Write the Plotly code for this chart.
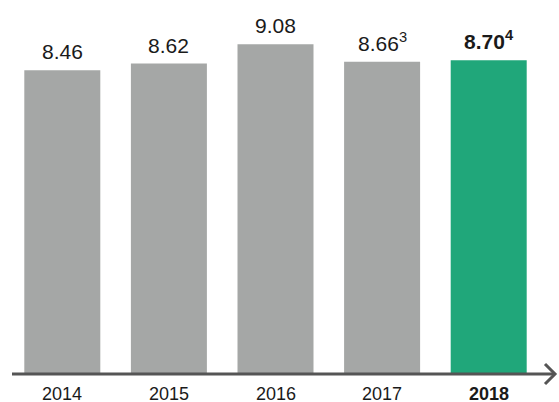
import plotly.graph_objects as go

years = ["2014", "2015", "2016", "2017", "2018"]
tick_labels = ["2014", "2015", "2016", "2017", "<b>2018</b>"]
values = [8.46, 8.62, 9.08, 8.66, 8.70]
value_labels = ["8.46", "8.62", "9.08", "8.66<sup>3</sup>", "<b>8.70<sup>4</sup></b>"]
colors = ["#a5a7a6", "#a5a7a6", "#a5a7a6", "#a5a7a6", "#20a77a"]

W, H = 559, 402
L, R, T, B = 9, 17, 30, 28
pw, ph = W - L - R, H - T - B

def px(x):
    return (x - L) / pw

def py(y):
    return (H - B - y) / ph

FONT = "Liberation Sans, Arial"
pos = list(range(len(years)))

fig = go.Figure(go.Bar(
    x=pos, y=values, base=0, marker_color=colors, marker_line_width=0,
))

for p, v, lab in zip(pos, values, value_labels):
    fig.add_annotation(x=p, y=v, xref="x", yref="y", text=lab, showarrow=False,
                       yanchor="bottom", yshift=5,
                       font=dict(size=21, color="#1a1a1a", family=FONT))

y_lo = 1.21
for p, lab in zip(pos, tick_labels):
    fig.add_annotation(x=p, y=y_lo, xref="x", yref="y", text=lab, showarrow=False,
                       yanchor="top", yshift=-10, height=17, valign="middle",
                       borderpad=0,
                       font=dict(size=18, color="#1a1a1a", family=FONT))

fig.update_layout(
    width=W, height=H, margin=dict(l=L, r=R, t=T, b=B, autoexpand=False),
    paper_bgcolor="white", plot_bgcolor="white", showlegend=False,
    bargap=0.287,
    xaxis=dict(range=[-0.5, len(years) - 0.5], showticklabels=False,
               showgrid=False, showline=False, zeroline=False, ticks=""),
    yaxis=dict(range=[y_lo, 9.42], visible=False, showgrid=False, zeroline=False),
)

# axis line with arrow
fig.add_shape(type="line", xref="paper", yref="paper",
              x0=px(12), x1=px(554), y0=py(374), y1=py(374),
              line=dict(color="#555555", width=3))
fig.add_shape(type="path", xref="paper", yref="paper",
              path=f"M {px(545)},{py(364)} L {px(555)},{py(374)} L {px(545)},{py(384)}",
              line=dict(color="#555555", width=3))

fig.write_html("out.html")
